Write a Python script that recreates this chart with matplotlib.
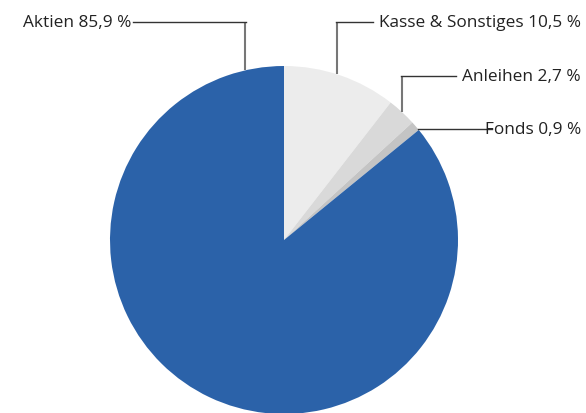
import numpy as np
import matplotlib
matplotlib.use("Agg")
import matplotlib.pyplot as plt

labels = ["Kasse & Sonstiges", "Anleihen", "Fonds", "Aktien"]
values = [10.5, 2.7, 0.9, 85.9]
colors = ["#ececec", "#d9d9d9", "#c4c4c4", "#2b62a9"]

W, H = 586, 414
fig = plt.figure(figsize=(W / 100, H / 100), dpi=100)
ax = fig.add_axes([0, 0, 1, 1])

cx, cy, R = 284, H - 241, 174
ax.pie(values, colors=colors, startangle=90, counterclock=False,
       center=(cx, cy), radius=R, wedgeprops=dict(linewidth=0),
       frame=True)
ax.set_xlim(0, W)
ax.set_ylim(0, H)
ax.set_aspect("equal")
ax.axis("off")

def fmt(label, v):
    return f"{label} {v:.1f} %".replace(".", ",")

font = dict(family=["Open Sans", "DejaVu Sans"], fontsize=12.4, color="#222222")
lc = "#333333"
vc = "#777777"

def on_circle_y(x):
    return cy + np.sqrt(R**2 - (x - cx) ** 2)

def on_circle_x(y):
    return cx + np.sqrt(R**2 - (y - cy) ** 2)

# Aktien
i = 3
ax0, yl = 245, H - 23
ax.plot([ax0, ax0], [on_circle_y(ax0), yl], color=vc, lw=1.5, solid_capstyle="butt")
ax.plot([133, ax0 + 0.75], [yl, yl], color=lc, lw=1.0)
ax.text(131, yl, fmt(labels[i], values[i]), ha="right", va="center", **font)

# Kasse
i = 0
ax0, yl = 337, H - 23
ax.plot([ax0, ax0], [on_circle_y(ax0), yl], color=vc, lw=1.5, solid_capstyle="butt")
ax.plot([ax0 - 0.75, 373], [yl, yl], color=lc, lw=1.0)
ax.text(581, yl, fmt(labels[i], values[i]), ha="right", va="center", **font)

# Anleihen
i = 1
ax0, yl = 402, H - 77
ax.plot([ax0, ax0], [on_circle_y(ax0), yl], color=vc, lw=1.5, solid_capstyle="butt")
ax.plot([ax0 - 0.75, 456], [yl, yl], color=lc, lw=1.0)
ax.text(581, yl, fmt(labels[i], values[i]), ha="right", va="center", **font)

# Fonds
i = 2
yl = H - 130
ax.plot([on_circle_x(yl), 492], [yl, yl], color=lc, lw=1.0)
ax.text(581, yl, fmt(labels[i], values[i]), ha="right", va="center", **font)

fig.savefig("out.png", dpi=100)
